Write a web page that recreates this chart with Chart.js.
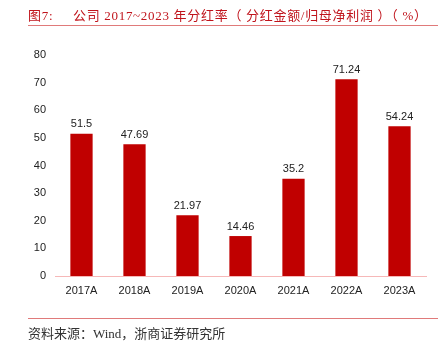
<!DOCTYPE html>
<html><head><meta charset="utf-8">
<script src="https://cdn.jsdelivr.net/npm/chart.js@4/dist/chart.umd.min.js"></script>
<style>
html,body{margin:0;padding:0;background:#fff;}
#wrap{position:relative;width:440px;height:344px;overflow:hidden;}
#c{position:absolute;left:0;top:0;}
.title{position:absolute;left:28px;top:5px;font-family:"Liberation Serif","Noto Sans CJK SC",serif;font-size:13px;color:#c0141c;white-space:pre;letter-spacing:0.7px;}
.hr1{position:absolute;left:28px;top:25px;width:410px;height:1px;background:#e07a7a;}
.hr2{position:absolute;left:28px;top:318px;width:410px;height:1px;background:#e07a7a;}
.src{position:absolute;left:28px;top:323px;font-family:"Liberation Serif","Noto Sans CJK SC",serif;font-size:13px;color:#333;white-space:pre;}
</style></head>
<body><div id="wrap">
<canvas id="c" width="440" height="344"></canvas>
<div class="title">图7:     公司 2017~2023 年分红率（ 分红金额/归母净利润 ）（ %）</div>
<div class="hr1"></div>
<div class="hr2"></div>
<div class="src">资料来源：Wind，浙商证券研究所</div>
</div>
<script>
const categories = ["2017A","2018A","2019A","2020A","2021A","2022A","2023A"];
const payoutRatio = [51.5,47.69,21.97,14.46,35.2,71.24,54.24];
const yTicks = [0,10,20,30,40,50,60,70,80];

const labelPlugin = {
  id:'valLabels',
  afterDatasetsDraw(chart){
    const ctx = chart.ctx;
    const meta = chart.getDatasetMeta(0);
    ctx.save();
    ctx.font = '11px "Liberation Sans", Arial, sans-serif';
    ctx.fillStyle = '#222';
    ctx.textAlign = 'center';
    ctx.textBaseline = 'bottom';
    meta.data.forEach((el,i)=>{
      ctx.fillText(String(payoutRatio[i]), el.x, el.y - 4);
    });
    ctx.restore();
  }
};

new Chart(document.getElementById('c'), {
  type:'bar',
  data:{labels:categories, datasets:[{data:payoutRatio, backgroundColor:'#c00000', borderWidth:0, barPercentage:0.42, categoryPercentage:1}]},
  options:{
    responsive:false, animation:false,
    layout:{padding:{left:0,right:14,top:55,bottom:0}},
    plugins:{legend:{display:false},tooltip:{enabled:false}},
    scales:{
      x:{
        grid:{display:false, drawTicks:false},
        border:{display:true,color:'#f6b8b8',width:1},
        ticks:{color:'#222',font:{family:'"Liberation Sans", Arial, sans-serif',size:11},padding:8,maxRotation:0},
        afterFit(s){s.height=68;}
      },
      y:{
        min:0,max:80,
        afterBuildTicks(s){s.ticks = yTicks.map(v=>({value:v}));},
        grid:{display:false, drawTicks:false},
        border:{display:false},
        ticks:{color:'#222',font:{family:'"Liberation Sans", Arial, sans-serif',size:11},padding:9},
        afterFit(s){s.width=55;}
      }
    }
  },
  plugins:[labelPlugin]
});
</script>
</body></html>
